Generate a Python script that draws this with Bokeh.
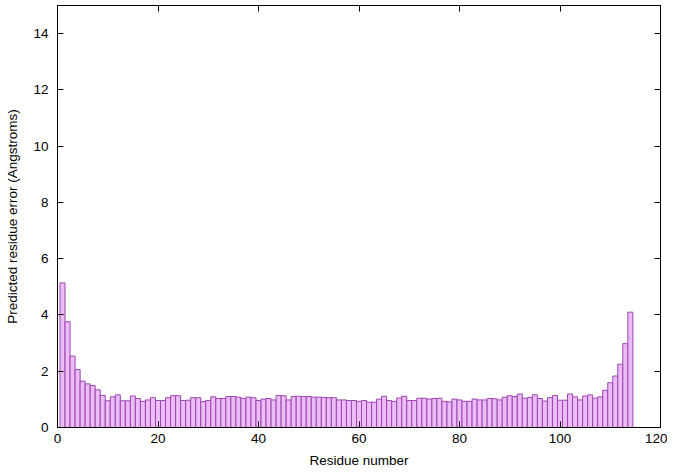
from bokeh.plotting import figure
from bokeh.models import LinearAxis, Range1d, FixedTicker, CustomJSTickFormatter
from bokeh.embed import file_html
from bokeh.resources import INLINE

residues = list(range(1, 115))
errors = [
    5.14, 3.76, 2.54, 2.06, 1.65, 1.55, 1.49, 1.34, 1.14, 0.95,
    1.09, 1.16, 0.95, 0.95, 1.12, 1.03, 0.93, 0.98, 1.06, 0.96,
    0.96, 1.06, 1.13, 1.13, 0.96, 0.97,
    1.06, 1.06, 0.92, 0.96, 1.09, 1.03, 1.03, 1.10, 1.10, 1.08,
    1.03, 1.08, 1.06, 0.96, 1.01, 1.03, 0.98, 1.14, 1.13, 0.98,
    1.10, 1.11, 1.10, 1.10, 1.08, 1.08, 1.07, 1.06, 1.06, 0.98,
    0.98, 0.96,
    0.96, 0.93, 0.96, 0.90, 0.90, 1.01, 1.11, 0.96, 0.93, 1.05,
    1.11, 0.96, 0.96, 1.04, 1.04, 1.01, 1.03, 1.04, 0.93, 0.91,
    1.01, 0.98, 0.93, 0.93, 1.01, 0.98, 0.98, 1.03,
    1.02, 0.98, 1.08, 1.13, 1.10, 1.19, 1.04, 1.07, 1.16, 1.03,
    0.94, 1.06, 1.14, 0.97, 0.97, 1.19, 1.09, 0.98, 1.12, 1.16,
    1.04, 1.09, 1.32, 1.59, 1.83, 2.25, 2.98, 4.10,
]
x_ticks = [0, 20, 40, 60, 80, 100, 120]
y_ticks = [0, 2, 4, 6, 8, 10, 12, 14]

FONT = "Liberation Sans"

p = figure(width=667, height=470, output_backend="svg", toolbar_location=None,
           x_range=Range1d(0, 120), y_range=Range1d(0, 15),
           min_border_left=57, min_border_right=7, min_border_top=5,
           min_border_bottom=43)
p.outline_line_color = "black"
p.outline_line_width = 1
p.xgrid.visible = False
p.ygrid.visible = False

p.vbar(x=residues, top=errors, width=1, bottom=0,
       fill_color="#ecbcf6", line_color="#9c45b4", line_width=1)

def style(ax, ticks, labels=True):
    ax.ticker = FixedTicker(ticks=ticks)
    ax.major_tick_in = 6
    ax.major_tick_out = 0
    ax.minor_tick_line_color = None
    ax.axis_line_color = "black"
    ax.major_tick_line_color = "black"
    ax.major_label_text_font = FONT
    ax.major_label_text_font_size = "13.5px"
    ax.major_label_text_color = "black"
    ax.axis_label_text_font = FONT
    ax.axis_label_text_font_size = "13.5px"
    ax.axis_label_text_font_style = "normal"
    ax.axis_label_text_color = "black"
    if not labels:
        ax.formatter = CustomJSTickFormatter(code="return ''")
        ax.major_label_standoff = 0

style(p.xaxis[0], x_ticks)
style(p.yaxis[0], y_ticks)
p.xaxis[0].axis_label = "Residue number"
p.yaxis[0].axis_label = "Predicted residue error (Angstroms)"
p.xaxis[0].major_label_standoff = 6
p.yaxis[0].major_label_standoff = 9
p.xaxis[0].axis_label_standoff = 7
p.yaxis[0].axis_label_standoff = 10

top_ax = LinearAxis()
style(top_ax, x_ticks, labels=False)
p.add_layout(top_ax, "above")
right_ax = LinearAxis()
style(right_ax, y_ticks, labels=False)
p.add_layout(right_ax, "right")

open("out.html", "w").write(file_html(p, INLINE))
